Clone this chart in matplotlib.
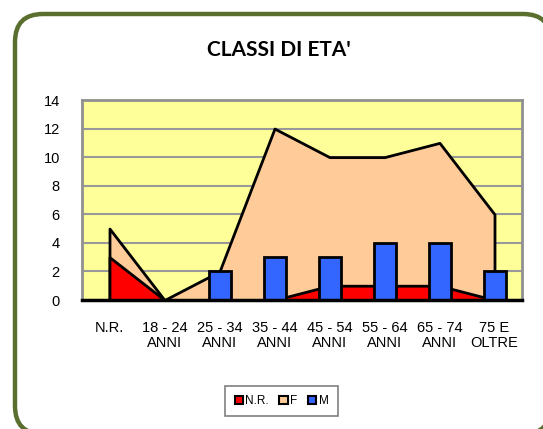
import matplotlib
matplotlib.use("Agg")
import matplotlib.pyplot as plt
from matplotlib.patches import FancyBboxPatch, Patch
import numpy as np

categories = ["N.R.", "18 - 24\nANNI", "25 - 34\nANNI", "35 - 44\nANNI", "45 - 54\nANNI",
              "55 - 64\nANNI", "65 - 74\nANNI", "75 E\nOLTRE"]
nr_values = [3, 0, 0, 0, 1, 1, 1, 0]
f_values = [5, 0, 2, 12, 10, 10, 11, 6]
m_values = [0, 0, 2, 3, 3, 4, 4, 2]
series_names = ["N.R.", "F", "M"]
yticks = [0, 2, 4, 6, 8, 10, 12, 14]

W, H = 543, 429
fig = plt.figure(figsize=(W / 100, H / 100), dpi=100)
fig.patch.set_facecolor("white")

# border
bg = fig.add_axes([0, 0, 1, 1], zorder=-5)
bg.set_xlim(0, W)
bg.set_ylim(H, 0)
bg.axis("off")
bg.add_patch(FancyBboxPatch((15, 14), 536, 420, boxstyle="round,pad=0,rounding_size=28",
                            facecolor="white", edgecolor="#5a6e2e", linewidth=3.2,
                            clip_on=False))

ax = fig.add_axes([82 / W, 1 - 300 / H, 440 / W, 200 / H])
ax.set_facecolor("#ffff99")
x = np.arange(len(categories))

ax.fill_between(x, f_values, 0, facecolor="#ffcc99", edgecolor="black", linewidth=2, zorder=2)
ax.fill_between(x, nr_values, 0, facecolor="#ff0000", edgecolor="black", linewidth=2, zorder=3)
ax.bar(x, m_values, width=0.4, color="#3366ff", edgecolor="black", linewidth=2, zorder=4)

ax.set_xlim(-0.5, len(categories) - 0.5)
ax.set_ylim(0, 14)
ax.set_yticks(yticks)
ax.set_xticks(x)
ax.set_xticklabels(categories, family="Liberation Sans", fontsize=10.5, linespacing=1.15)
for lbl in ax.get_yticklabels():
    lbl.set_family("Liberation Sans")
    lbl.set_fontsize(10.5)
ax.tick_params(axis="y", length=0, pad=16)
ax.tick_params(axis="x", length=0, pad=15)
ax.grid(axis="y", color="#999999", linewidth=1.5, zorder=1)
ax.set_axisbelow(True)
for s in ["top", "right", "left"]:
    ax.spines[s].set_color("#909090")
    ax.spines[s].set_linewidth(2)
ax.spines["bottom"].set_color("black")
ax.spines["bottom"].set_linewidth(2.5)
ax.spines["bottom"].set_zorder(6)

fig.text(279 / W, 1 - 50 / H, "CLASSI DI ETA'", ha="center", va="center",
         family="Lato", fontweight="bold", fontsize=15)

handles = [Patch(facecolor="#ff0000", edgecolor="black", linewidth=1.5),
           Patch(facecolor="#ffcc99", edgecolor="black", linewidth=1.5),
           Patch(facecolor="#3366ff", edgecolor="black", linewidth=1.5)]
leg = fig.legend(handles, series_names, loc="center", bbox_to_anchor=(281.5 / W, 1 - 401 / H),
                 ncol=3, fancybox=False, edgecolor="#808080", framealpha=1,
                 handlelength=0.7, handleheight=0.7, handletextpad=0.2, columnspacing=0.9,
                 borderpad=0.8, prop={"family": "Liberation Sans", "size": 8.5})
leg.get_frame().set_linewidth(1.2)

fig.savefig("out.png", dpi=100)
